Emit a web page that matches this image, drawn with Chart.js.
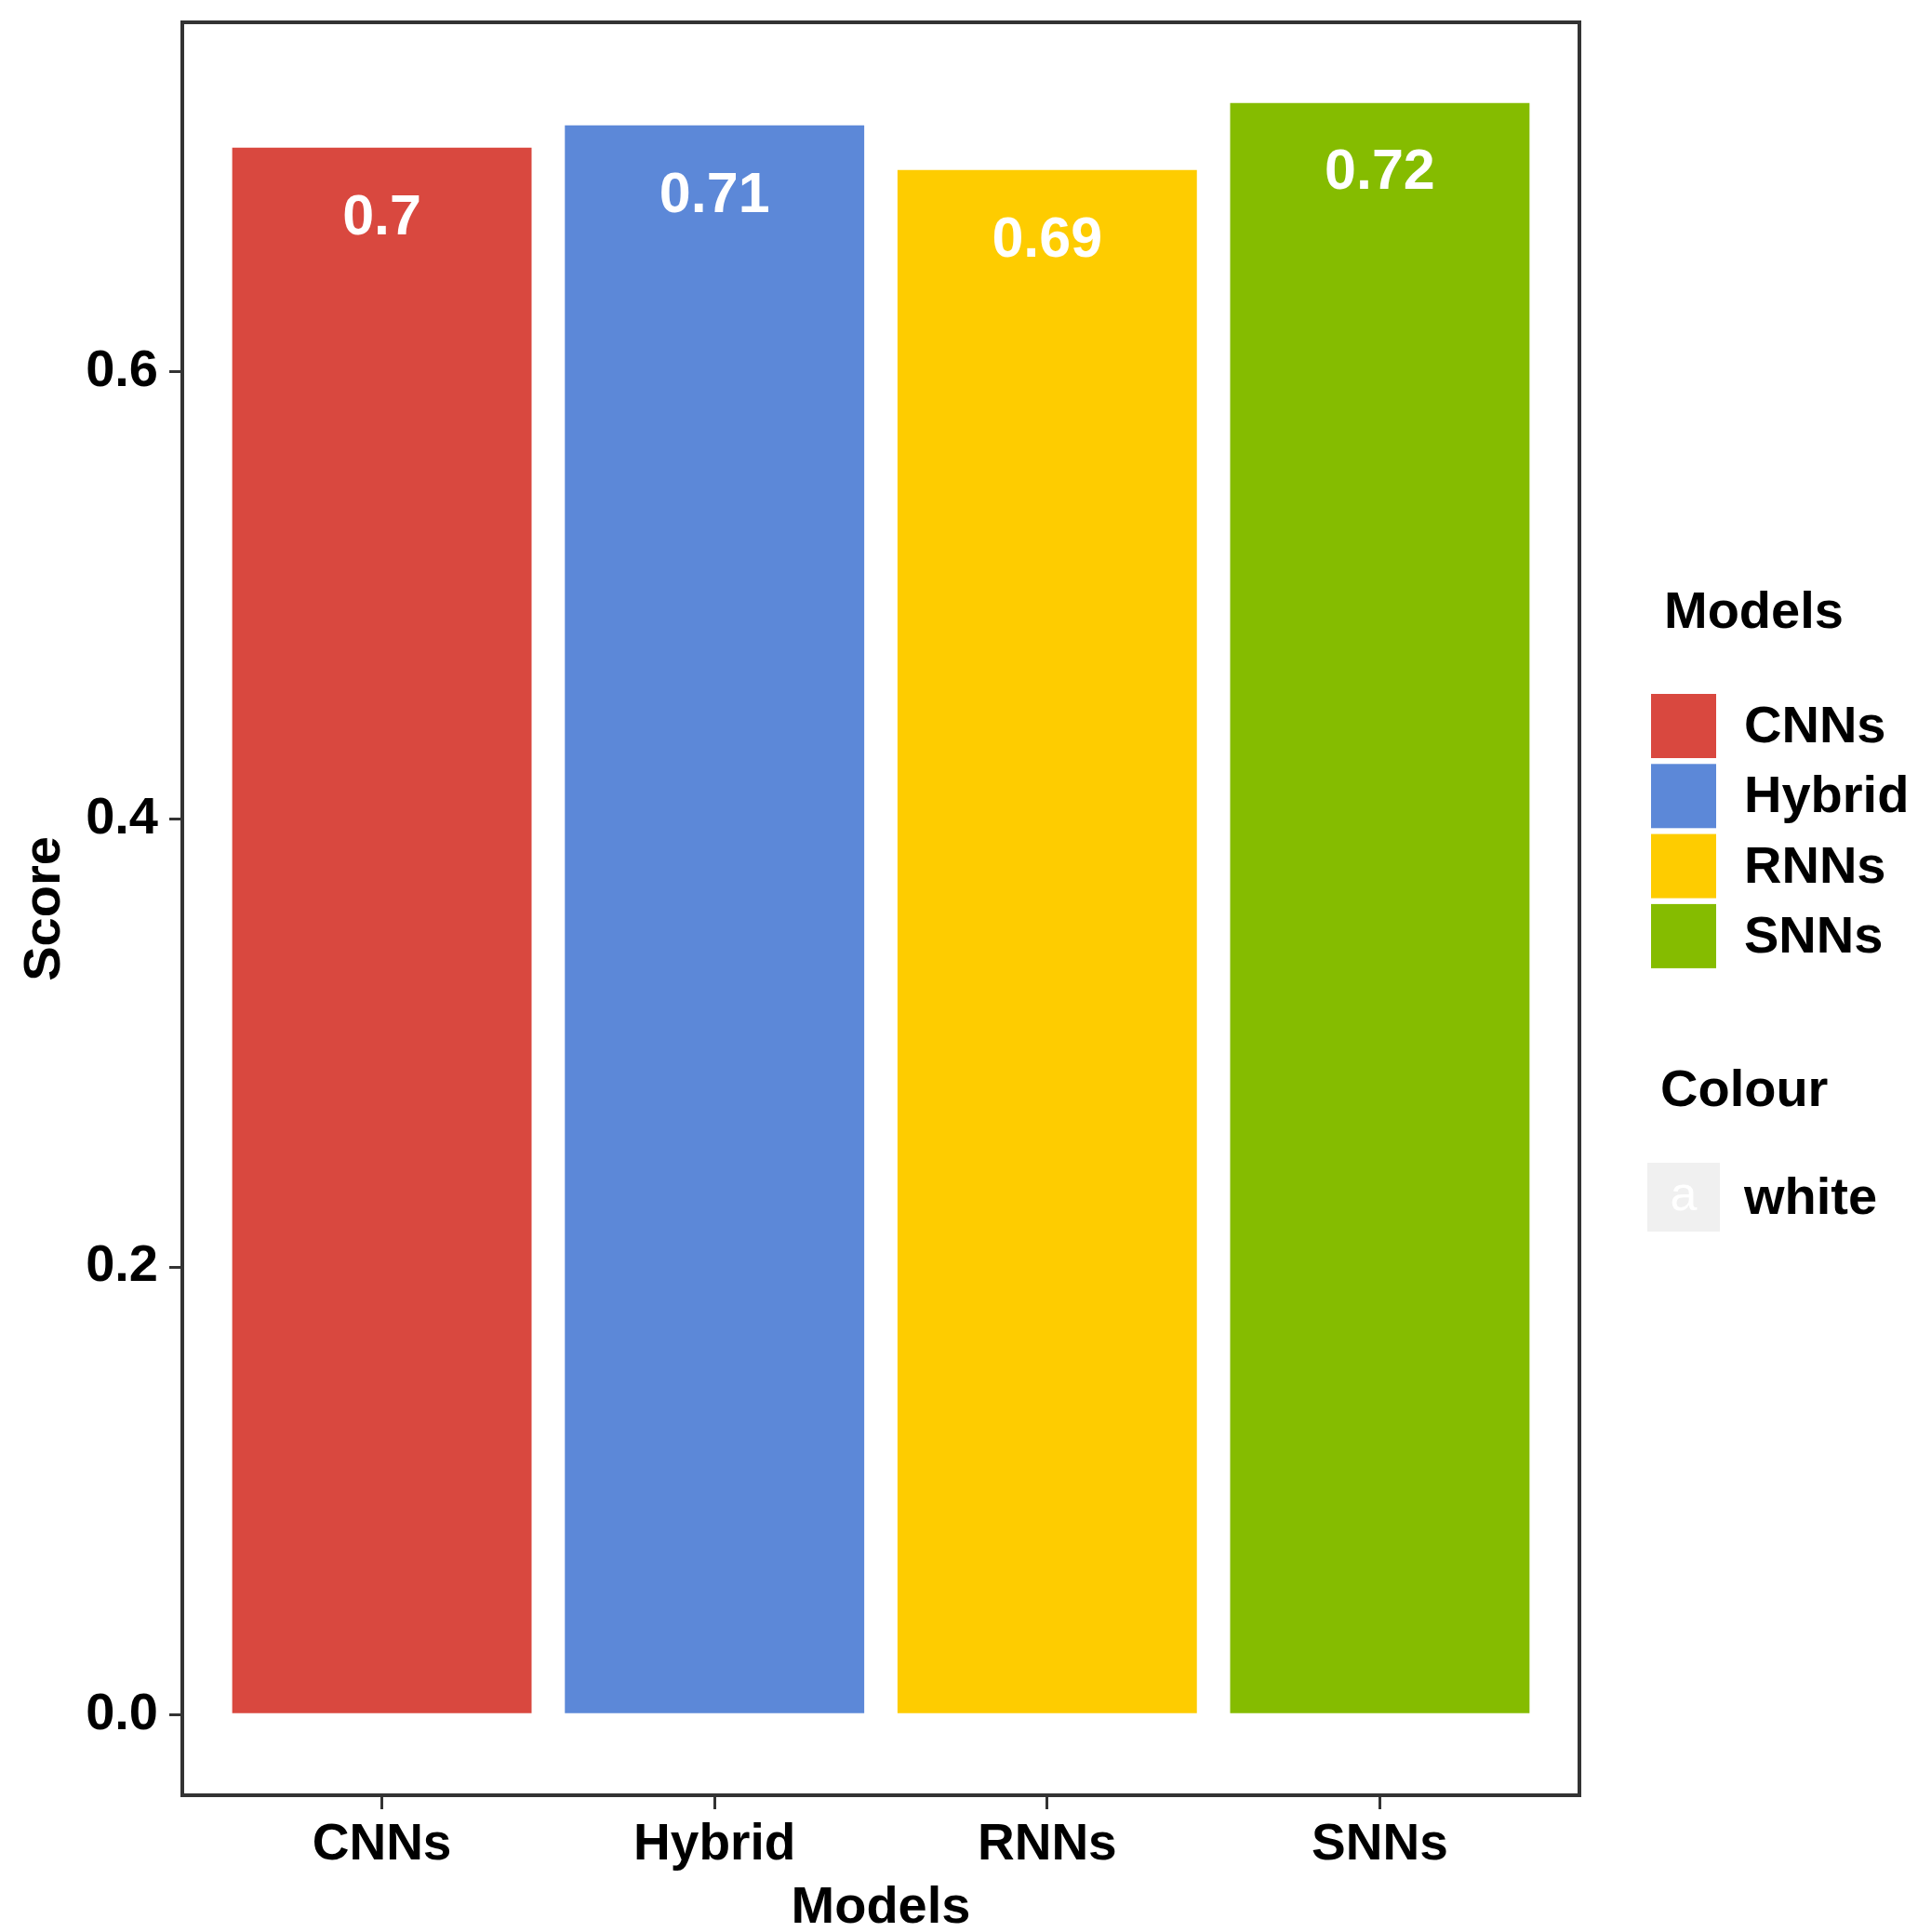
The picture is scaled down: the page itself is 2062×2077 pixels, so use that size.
<!DOCTYPE html>
<html>
<head>
<meta charset="utf-8">
<title>Model scores</title>
<script src="https://cdn.jsdelivr.net/npm/chart.js@4.4.1/dist/chart.umd.min.js"></script>
<style>
    html, body { margin: 0; padding: 0; background: #ffffff; }
    #chartBox { width: 2062px; height: 2077px; }
</style>
</head>
<body>
<div id="chartBox"><canvas id="scoreChart" width="2062" height="2077"></canvas></div>
<script>
// data
const models = ['CNNs', 'Hybrid', 'RNNs', 'SNNs'];
const scores = [0.70, 0.71, 0.69, 0.72];
const barColors = ['#D9483F', '#5C88D8', '#FECC00', '#85BC00'];
const yTicks = [0.0, 0.2, 0.4, 0.6];
const colourLegend = ['white'];

const fontFamily = '"Liberation Sans", Arial, Helvetica, sans-serif';

// ggplot style: 5% expansion on y, 0.6 on each side of discrete x
const yMin = -0.05 * Math.max(...scores);
const yMax = Math.max(...scores) * 1.05;

// draws the boxed panel, value labels and the two legends on the right
const ggExtras = {
    id: 'ggExtras',
    afterDatasetsDraw(chart) {
        const ctx = chart.ctx;
        const meta = chart.getDatasetMeta(0);
        ctx.save();
        ctx.fillStyle = '#ffffff';
        ctx.font = 'bold 61px ' + fontFamily;
        ctx.textAlign = 'center';
        ctx.textBaseline = 'middle';
        meta.data.forEach((bar, i) => {
            ctx.fillText(String(scores[i]), bar.x, bar.y + 76);
        });
        ctx.restore();
    },
    afterDraw(chart) {
        const ctx = chart.ctx;
        const area = chart.chartArea;
        ctx.save();

        // panel border
        ctx.strokeStyle = '#333333';
        ctx.lineWidth = 4;
        ctx.strokeRect(area.left, area.top, area.right - area.left, area.bottom - area.top);

        // "Models" fill legend
        ctx.fillStyle = '#000000';
        ctx.font = 'bold 56px ' + fontFamily;
        ctx.textAlign = 'left';
        ctx.textBaseline = 'middle';
        ctx.fillText('Models', 1789, 660);

        const keyLeft = 1775, keyTop = 746, keyW = 70, keyH = 69, pitch = 75.3;
        models.forEach((name, i) => {
            const y = keyTop + i * pitch;
            ctx.fillStyle = barColors[i];
            ctx.fillRect(keyLeft, y, keyW, keyH);
            ctx.fillStyle = '#000000';
            ctx.fillText(name, 1875, y + keyH / 2 + 2);
        });

        // "Colour" legend
        ctx.fillText('Colour', 1785, 1174);
        colourLegend.forEach((name, i) => {
            const y = 1250 + i * 80;
            ctx.fillStyle = '#F0F0F0';
            ctx.fillRect(1771, y, 78, 74);
            ctx.fillStyle = '#ffffff';
            ctx.textAlign = 'center';
            ctx.font = '52px ' + fontFamily;
            ctx.fillText('a', 1810, y + 37);
            ctx.textAlign = 'left';
            ctx.font = 'bold 56px ' + fontFamily;
            ctx.fillStyle = '#000000';
            ctx.fillText(name, 1875, y + 40);
        });
        ctx.restore();
    }
};

document.addEventListener('DOMContentLoaded', function() {
    const ctx = document.getElementById('scoreChart').getContext('2d');

    new Chart(ctx, {
        type: 'bar',
        data: {
            datasets: [{
                label: 'Score',
                data: scores.map((v, i) => ({ x: i + 1, y: v })),
                backgroundColor: barColors,
                borderWidth: 0,
                barPercentage: 0.9,
                categoryPercentage: 1.0
            }]
        },
        options: {
            responsive: false,
            devicePixelRatio: 1,
            animation: false,
            layout: {
                padding: { left: 0, top: 24, right: 364, bottom: 0 }
            },
            scales: {
                x: {
                    type: 'linear',
                    min: 0.4,
                    max: 4.6,
                    offset: false,
                    afterBuildTicks: (scale) => {
                        scale.ticks = models.map((m, i) => ({ value: i + 1 }));
                    },
                    afterFit: (scale) => {
                        scale.height = 147;
                        scale.paddingLeft = 0;
                        scale.paddingRight = 0;
                    },
                    grid: {
                        offset: false,
                        drawOnChartArea: false,
                        drawTicks: true,
                        tickLength: 15,
                        color: '#333333',
                        lineWidth: 3
                    },
                    border: { display: false },
                    ticks: {
                        padding: 6,
                        color: '#000000',
                        font: { family: fontFamily, size: 55, weight: 'bold' },
                        callback: (value) => models[value - 1]
                    },
                    title: {
                        display: true,
                        text: 'Models',
                        color: '#000000',
                        padding: 0,
                        font: { family: fontFamily, size: 56, weight: 'bold', lineHeight: 0.9 }
                    }
                },
                y: {
                    min: yMin,
                    max: yMax,
                    afterBuildTicks: (scale) => {
                        scale.ticks = yTicks.map(v => ({ value: v }));
                    },
                    afterFit: (scale) => {
                        scale.width = 196;
                        scale.paddingTop = 0;
                        scale.paddingBottom = 0;
                    },
                    grid: {
                        drawOnChartArea: false,
                        drawTicks: true,
                        tickLength: 14,
                        color: '#333333',
                        lineWidth: 3
                    },
                    border: { display: false },
                    ticks: {
                        padding: 12,
                        color: '#000000',
                        font: { family: fontFamily, size: 56, weight: 'bold' },
                        callback: (value) => value.toFixed(1)
                    },
                    title: {
                        display: true,
                        text: 'Score',
                        color: '#000000',
                        padding: { top: 21, bottom: 0 },
                        font: { family: fontFamily, size: 56, weight: 'bold', lineHeight: 1 }
                    }
                }
            },
            plugins: {
                legend: { display: false },
                tooltip: { enabled: false }
            }
        },
        plugins: [ggExtras]
    });
});
</script>
</body>
</html>
